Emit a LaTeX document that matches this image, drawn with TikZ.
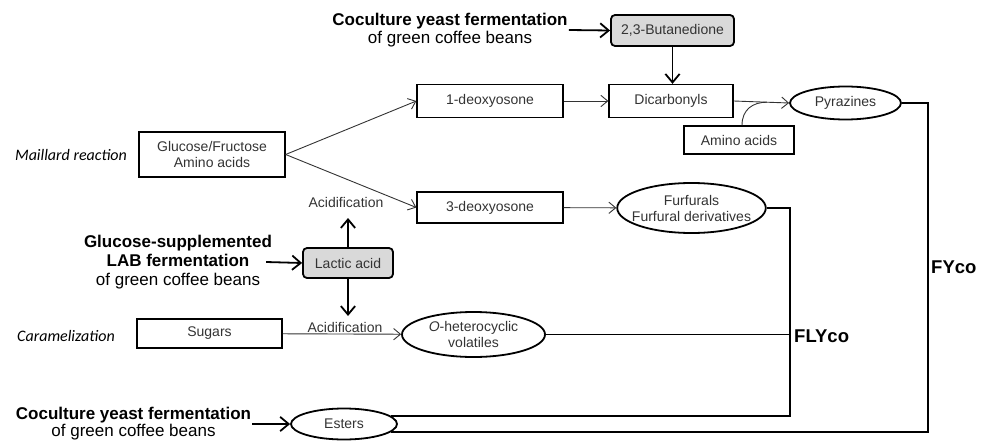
\documentclass[tikz,border=0pt]{standalone}
\usepackage{fontspec}
\setmainfont{Liberation Sans}
\newfontfamily\calfont{Carlito}
\usepackage{tikz}
\usetikzlibrary{calc,arrows.meta,positioning,shapes.geometric}
\definecolor{inkgrey}{HTML}{333333}
\definecolor{fillgrey}{HTML}{D9D9D9}
\tikzset{
  ar/.style={-{Straight Barb[length=2.4mm,width=4mm]},line width=0.9pt,inkgrey},
  bigar/.style={-{Straight Barb[length=3mm,width=5mm]},line width=1.8pt},
  link/.style={line width=1.8pt},
  box/.style={draw,line width=1.3pt,inner sep=0pt,align=center,text=inkgrey,font=\fontsize{14}{16}\selectfont},
  gbox/.style={box,rounded corners=4pt,fill=fillgrey,line width=1.8pt},
  oval/.style={ellipse,draw,line width=1.8pt,inner sep=0pt,align=center,text=inkgrey,font=\fontsize{14}{16}\selectfont},
  src/.style={align=center,inner sep=1pt,font=\fontsize{17}{18}\selectfont},
  note/.style={text=inkgrey,inner sep=1pt,font=\fontsize{14}{16}\selectfont},
  side/.style={font=\calfont\itshape\fontsize{16}{18}\selectfont},
  tag/.style={anchor=west,inner sep=0pt,font=\bfseries\fontsize{18.5}{20}\selectfont}
}
\begin{document}
\begin{tikzpicture}[x=1pt,y=-1pt]
\useasboundingbox (0,0) rectangle (981,441);
\node[gbox,minimum width=123pt,minimum height=31pt] (butan) at (672.5,30.5) {2,3-Butanedione};
\node[box,minimum width=124pt,minimum height=33pt] (dicarb) at (671,101) {Dicarbonyls};
\node[box,minimum width=146pt,minimum height=33pt] (deoxyA) at (490,101) {1-deoxyosone};
\node[box,minimum width=146pt,minimum height=45pt] (gluc) at (212,154.5) {Glucose/Fructose\\Amino acids};
\node[box,minimum width=146pt,minimum height=31pt] (deoxyB) at (490,207.5) {3-deoxyosone};
\node[gbox,minimum width=90pt,minimum height=30pt] (lactic) at (348,263) {Lactic acid};
\node[box,minimum width=145pt,minimum height=29pt] (sugars) at (209.5,333.5) {Sugars};
\node[box,minimum width=110pt,minimum height=28pt] (amino) at (739,140) {Amino acids};
\node[oval,minimum width=111pt,minimum height=33pt] (pyraz) at (845.5,103) {Pyrazines};
\node[oval,inner xsep=-7pt,minimum width=143pt,minimum height=50pt] (furf) at (691.5,208) {Furfurals\\Furfural derivatives};
\node[oval,minimum width=143pt,minimum height=45pt] (ohet) at (473.5,334.5) {\textit{O}-heterocyclic\\volatiles};
\node[oval,minimum width=106pt,minimum height=31pt] (esters) at (344,424) {Esters};
\node[src] (cocA) at (450,30) {\textbf{Coculture yeast fermentation}\\of green coffee beans};
\node[src,font=\fontsize{17}{19}\selectfont] (glsup) at (178,262) {\textbf{Glucose-supplemented}\\\textbf{LAB fermentation}\\of green coffee beans};
\node[src,font=\fontsize{17}{17}\selectfont] (cocB) at (133.5,424) {\textbf{Coculture yeast fermentation}\\of green coffee beans};
\node[side] (maill) at (71,155) {Maillard reaction};
\node[side] (caram) at (66,336) {Caramelization};
\node[note] (acidA) at (346,202) {Acidification};
\node[note] (acidB) at (345,327) {Acidification};
\node[tag] (flyco) at (794,336) {FLYco};
\node[tag] (fyco) at (931,267) {FYco};
\coordinate (flyx) at (790,0);
\coordinate (fyx) at (928,0);
\coordinate (upend) at (348,218);
\coordinate (downend) at (348,316);
\coordinate (merge) at ($(dicarb.east)!0.6!(pyraz.west)$);
\draw[bigar] (cocA.east) -- (butan.west);
\draw[bigar] (butan.south) -- (butan.south |- dicarb.north);
\draw[ar] (gluc.east) -- (deoxyA.west);
\draw[ar] (gluc.east) -- (deoxyB.west);
\draw[ar] (deoxyA) -- (dicarb);
\draw[ar] (deoxyB) -- (furf);
\draw[ar] (dicarb.east) -- (pyraz.west);
\draw[inkgrey,line width=0.9pt] ([xshift=3pt]amino.north) .. controls +(0,-16) and +(-14,0) .. (merge);
\draw[bigar] (lactic.north) -- (upend);
\draw[bigar] (lactic.south) -- (downend);
\draw[bigar] ([xshift=-7pt]glsup.east) -- (lactic.west);
\draw[ar] (sugars) -- (ohet);
\draw[bigar] (cocB.east) -- (esters.west);
\draw[link] (ohet.east) -- (ohet.east -| flyx);
\draw[link] (furf.east) -| (flyx |- esters.10) -- (esters.10);
\draw[link] (pyraz.east) -| (fyx |- esters.-10) -- (esters.-10);
\end{tikzpicture}
\end{document}
